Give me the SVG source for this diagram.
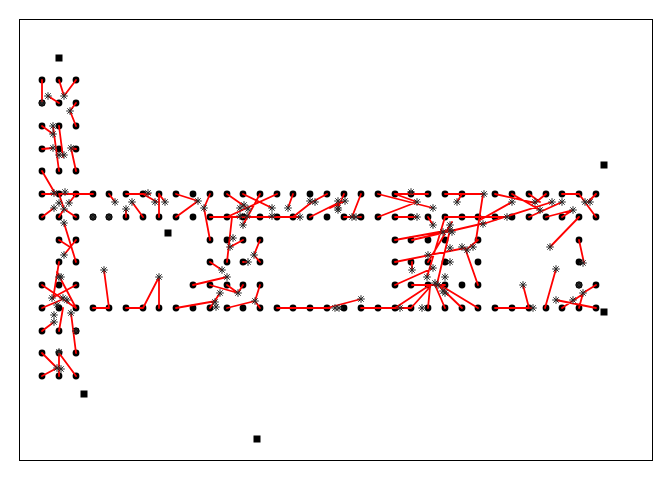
<svg xmlns="http://www.w3.org/2000/svg" xmlns:xlink="http://www.w3.org/1999/xlink" width="672" height="480" viewBox="0 0 672 480">
<style>
.frame{fill:#fff;stroke:#000;stroke-width:1}
.ln{fill:none;stroke:#f00;stroke-width:1.8;stroke-linecap:round;stroke-linejoin:round}
.st{fill:none;stroke:#2a2a2a;stroke-width:1}
.dt{fill:#000}
.sq{fill:#000}
</style>
<defs>
<circle id="d" r="3.4" class="dt"/>
<path id="s" class="st" d="M-3.8 0H3.8M0-3.8V3.8M-2.7-2.7L2.7 2.7M-2.7 2.7L2.7-2.7"/>
<rect id="q" x="-3.5" y="-3.5" width="7" height="7" class="sq"/>
</defs>
<rect class="frame" x="19.5" y="19.5" width="633" height="441"/>
<g id="dots">
<use href="#d" x="42" y="80"/><use href="#d" x="59" y="80"/><use href="#d" x="76" y="80"/>
<use href="#d" x="42" y="103"/><use href="#d" x="59" y="103"/><use href="#d" x="76" y="103"/>
<use href="#d" x="42" y="126"/><use href="#d" x="59" y="126"/><use href="#d" x="76" y="126"/>
<use href="#d" x="42" y="149"/><use href="#d" x="59" y="149"/><use href="#d" x="76" y="149"/>
<use href="#d" x="42" y="171"/><use href="#d" x="59" y="171"/><use href="#d" x="76" y="171"/>
<g id="row194">
<use href="#d" x="42" y="194"/><use href="#d" x="59" y="194"/><use href="#d" x="76" y="194"/><use href="#d" x="93" y="194"/><use href="#d" x="109" y="194"/><use href="#d" x="126" y="194"/><use href="#d" x="143" y="194"/><use href="#d" x="159" y="194"/><use href="#d" x="176" y="194"/><use href="#d" x="193" y="194"/><use href="#d" x="210" y="194"/><use href="#d" x="227" y="194"/><use href="#d" x="243" y="194"/><use href="#d" x="260" y="194"/><use href="#d" x="277" y="194"/><use href="#d" x="293" y="194"/><use href="#d" x="310" y="194"/><use href="#d" x="327" y="194"/><use href="#d" x="344" y="194"/><use href="#d" x="361" y="194"/><use href="#d" x="378" y="194"/><use href="#d" x="395" y="194"/><use href="#d" x="411" y="194"/><use href="#d" x="428" y="194"/><use href="#d" x="445" y="194"/><use href="#d" x="462" y="194"/><use href="#d" x="495" y="194"/><use href="#d" x="512" y="194"/><use href="#d" x="529" y="194"/><use href="#d" x="546" y="194"/><use href="#d" x="562" y="194"/><use href="#d" x="579" y="194"/><use href="#d" x="596" y="194"/>
</g>
<g id="row217">
<use href="#d" x="42" y="217"/><use href="#d" x="59" y="217"/><use href="#d" x="76" y="217"/><use href="#d" x="93" y="217"/><use href="#d" x="109" y="217"/><use href="#d" x="126" y="217"/><use href="#d" x="143" y="217"/><use href="#d" x="159" y="217"/><use href="#d" x="176" y="217"/><use href="#d" x="193" y="217"/><use href="#d" x="210" y="217"/><use href="#d" x="227" y="217"/><use href="#d" x="243" y="217"/><use href="#d" x="260" y="217"/><use href="#d" x="277" y="217"/><use href="#d" x="293" y="217"/><use href="#d" x="310" y="217"/><use href="#d" x="327" y="217"/><use href="#d" x="344" y="217"/><use href="#d" x="361" y="217"/><use href="#d" x="378" y="217"/><use href="#d" x="395" y="217"/><use href="#d" x="411" y="217"/><use href="#d" x="428" y="217"/><use href="#d" x="445" y="217"/><use href="#d" x="462" y="217"/><use href="#d" x="478" y="217"/><use href="#d" x="495" y="217"/><use href="#d" x="512" y="217"/><use href="#d" x="529" y="217"/><use href="#d" x="546" y="217"/><use href="#d" x="562" y="217"/><use href="#d" x="579" y="217"/><use href="#d" x="596" y="217"/>
</g>
<g id="row240">
<use href="#d" x="59" y="240"/><use href="#d" x="76" y="240"/><use href="#d" x="210" y="240"/><use href="#d" x="227" y="240"/><use href="#d" x="243" y="240"/><use href="#d" x="260" y="240"/><use href="#d" x="395" y="240"/><use href="#d" x="411" y="240"/><use href="#d" x="428" y="240"/><use href="#d" x="445" y="240"/><use href="#d" x="478" y="240"/><use href="#d" x="579" y="240"/>
</g>
<g id="row262">
<use href="#d" x="59" y="262"/><use href="#d" x="76" y="262"/><use href="#d" x="210" y="262"/><use href="#d" x="227" y="262"/><use href="#d" x="243" y="262"/><use href="#d" x="260" y="262"/><use href="#d" x="395" y="262"/><use href="#d" x="411" y="262"/><use href="#d" x="428" y="262"/><use href="#d" x="445" y="262"/><use href="#d" x="478" y="262"/><use href="#d" x="579" y="262"/>
</g>
<g id="row285">
<use href="#d" x="42" y="285"/><use href="#d" x="59" y="285"/><use href="#d" x="76" y="285"/><use href="#d" x="193" y="285"/><use href="#d" x="210" y="285"/><use href="#d" x="227" y="285"/><use href="#d" x="243" y="285"/><use href="#d" x="260" y="285"/><use href="#d" x="395" y="285"/><use href="#d" x="411" y="285"/><use href="#d" x="428" y="285"/><use href="#d" x="445" y="285"/><use href="#d" x="462" y="285"/><use href="#d" x="478" y="285"/><use href="#d" x="579" y="285"/><use href="#d" x="596" y="285"/>
</g>
<g id="row308">
<use href="#d" x="42" y="308"/><use href="#d" x="59" y="308"/><use href="#d" x="76" y="308"/><use href="#d" x="93" y="308"/><use href="#d" x="109" y="308"/><use href="#d" x="126" y="308"/><use href="#d" x="143" y="308"/><use href="#d" x="159" y="308"/><use href="#d" x="176" y="308"/><use href="#d" x="193" y="308"/><use href="#d" x="210" y="308"/><use href="#d" x="227" y="308"/><use href="#d" x="243" y="308"/><use href="#d" x="260" y="308"/><use href="#d" x="277" y="308"/><use href="#d" x="293" y="308"/><use href="#d" x="310" y="308"/><use href="#d" x="327" y="308"/><use href="#d" x="344" y="308"/><use href="#d" x="361" y="308"/><use href="#d" x="378" y="308"/><use href="#d" x="395" y="308"/><use href="#d" x="411" y="308"/><use href="#d" x="428" y="308"/><use href="#d" x="445" y="308"/><use href="#d" x="462" y="308"/><use href="#d" x="478" y="308"/><use href="#d" x="495" y="308"/><use href="#d" x="512" y="308"/><use href="#d" x="529" y="308"/><use href="#d" x="546" y="308"/><use href="#d" x="562" y="308"/><use href="#d" x="579" y="308"/><use href="#d" x="596" y="308"/>
</g>
<use href="#d" x="42" y="331"/><use href="#d" x="59" y="331"/><use href="#d" x="76" y="331"/>
<use href="#d" x="42" y="353"/><use href="#d" x="59" y="353"/><use href="#d" x="76" y="353"/>
<use href="#d" x="42" y="376"/><use href="#d" x="59" y="376"/><use href="#d" x="76" y="376"/>
</g>
<g id="connectors" class="ln">
<path d="M42 80L42 103M48 96L59 103M59 80L64 96M76 80L64 96M76 103L70 111L76 126M42 126L53 134M53 126L59 171M59 126L63 157M42 149L53 148M76 149L71 148L76 171"/>
<path d="M42 171L56 195M42 194L54 194M59 194L93 194M59 194L64 209M76 194L69 203M42 217L54 208M59 217L64 209M76 217L64 209M64 223L76 262M76 240L64 255M59 240L70 247M59 262L53 299"/>
<path d="M42 285L76 308M76 285L52 298M42 308L61 300M59 331L63 308M42 331L54 322M71 313L76 353M57 272L76 308M42 353L57 368M42 376L57 368M59 353L59 376M59 353L76 376"/>
<path d="M109 194L115 202M126 194L150 194M126 217L126 209M132 202L143 217M143 194L157 202M159 194L165 202M159 194L159 217M176 194L198 201M176 217L198 201"/>
<path d="M210 194L204 208L210 240M227 194L247 208M243 194L272 208M260 194L243 225M277 194L227 217M293 194L288 208M327 194L312 202M293 217L312 202M310 217L340 202M210 217L300 217"/>
<path d="M232 217L227 262M243 240L230 247M260 240L254 255L260 262M243 262L248 262M210 262L222 270M193 285L227 277M210 285L238 293M227 285L238 293M243 285L238 293M176 308L216 301M210 308L220 293M227 308L255 301M260 285L255 301M260 308L255 301M277 308L330 308"/>
<path d="M93 308L109 308M109 308L104 270M126 308L143 308M143 308L159 277M159 308L159 277"/>
<path d="M327 308L361 299M361 308L411 308M395 308L430 285M411 308L430 287"/>
<path d="M344 194L338 208M330 208L345 201M361 194L352 217M344 217L361 217M378 194L433 208M395 194L428 194M395 194L417 202M378 217L417 202M395 217L417 217M428 217L433 225M445 194L484 194M462 194L457 202M483 194L476 240M445 217L478 217"/>
<path d="M395 240L450 230M412 240L485 223M452 222L428 262M395 262L465 248M412 262L412 270M465 248L478 285M395 285L433 268M412 285L445 285M430 287L428 308M435 285L445 308M437 284L462 308M440 285L478 308M445 217L427 277M450 230L437 284M478 240L466 250"/>
<path d="M495 194L535 203M512 194L540 210M529 194L540 202M546 194L535 203M483 224L552 202M480 220L512 202M478 217L507 217M529 217L562 202M546 217L573 210M562 217L573 210M562 194L579 194M579 194L596 217M579 217L550 247M596 194L588 202M579 240L584 263M556 269L545 308M495 308L533 308M529 308L523 285M596 285L583 293M562 308L583 294M556 300L596 308M579 308L583 293"/>
</g>
<g id="stars">
<use href="#s" x="42" y="103"/><use href="#s" x="48" y="96"/><use href="#s" x="64" y="96"/><use href="#s" x="70" y="111"/><use href="#s" x="53" y="126"/><use href="#s" x="53" y="134"/><use href="#s" x="53" y="148"/><use href="#s" x="59" y="155"/><use href="#s" x="64" y="155"/><use href="#s" x="71" y="148"/>
<use href="#s" x="54" y="193"/><use href="#s" x="65" y="192"/><use href="#s" x="59" y="203"/><use href="#s" x="69" y="203"/><use href="#s" x="54" y="208"/><use href="#s" x="64" y="209"/><use href="#s" x="64" y="223"/><use href="#s" x="64" y="255"/><use href="#s" x="59" y="277"/>
<use href="#s" x="61" y="277"/><use href="#s" x="52" y="298"/><use href="#s" x="63" y="298"/><use href="#s" x="67" y="300"/><use href="#s" x="57" y="305"/><use href="#s" x="54" y="315"/><use href="#s" x="54" y="322"/><use href="#s" x="71" y="313"/><use href="#s" x="76" y="331"/><use href="#s" x="57" y="368"/><use href="#s" x="61" y="369"/><use href="#s" x="59" y="352"/>
<use href="#s" x="115" y="202"/><use href="#s" x="126" y="209"/><use href="#s" x="132" y="202"/><use href="#s" x="148" y="193"/><use href="#s" x="155" y="202"/><use href="#s" x="165" y="202"/><use href="#s" x="198" y="201"/><use href="#s" x="93" y="217"/><use href="#s" x="109" y="217"/>
<use href="#s" x="204" y="208"/><use href="#s" x="240" y="208"/><use href="#s" x="244" y="205"/><use href="#s" x="248" y="209"/><use href="#s" x="272" y="208"/><use href="#s" x="243" y="225"/><use href="#s" x="288" y="208"/><use href="#s" x="310" y="201"/><use href="#s" x="315" y="202"/><use href="#s" x="338" y="201"/><use href="#s" x="338" y="210"/><use href="#s" x="240" y="216"/><use href="#s" x="247" y="216"/><use href="#s" x="272" y="216"/><use href="#s" x="300" y="217"/>
<use href="#s" x="233" y="238"/><use href="#s" x="230" y="247"/><use href="#s" x="254" y="255"/><use href="#s" x="248" y="262"/><use href="#s" x="222" y="270"/><use href="#s" x="227" y="277"/><use href="#s" x="238" y="293"/><use href="#s" x="220" y="293"/><use href="#s" x="216" y="307"/><use href="#s" x="215" y="302"/><use href="#s" x="255" y="301"/>
<use href="#s" x="104" y="270"/><use href="#s" x="159" y="277"/>
<use href="#s" x="335" y="308"/><use href="#s" x="339" y="308"/><use href="#s" x="361" y="299"/><use href="#s" x="400" y="308"/><use href="#s" x="422" y="308"/>
<use href="#s" x="345" y="201"/><use href="#s" x="338" y="208"/><use href="#s" x="352" y="217"/><use href="#s" x="356" y="217"/><use href="#s" x="433" y="208"/><use href="#s" x="411" y="192"/><use href="#s" x="417" y="202"/><use href="#s" x="417" y="217"/><use href="#s" x="433" y="225"/><use href="#s" x="457" y="202"/><use href="#s" x="484" y="194"/><use href="#s" x="483" y="224"/><use href="#s" x="450" y="225"/><use href="#s" x="452" y="232"/>
<use href="#s" x="450" y="230"/><use href="#s" x="443" y="232"/><use href="#s" x="450" y="248"/><use href="#s" x="462" y="247"/><use href="#s" x="467" y="250"/><use href="#s" x="473" y="247"/><use href="#s" x="412" y="270"/><use href="#s" x="428" y="255"/><use href="#s" x="450" y="262"/><use href="#s" x="427" y="277"/><use href="#s" x="433" y="268"/><use href="#s" x="445" y="277"/><use href="#s" x="435" y="283"/><use href="#s" x="438" y="285"/><use href="#s" x="443" y="291"/><use href="#s" x="445" y="293"/>
<use href="#s" x="535" y="202"/><use href="#s" x="540" y="210"/><use href="#s" x="552" y="202"/><use href="#s" x="512" y="202"/><use href="#s" x="507" y="217"/><use href="#s" x="562" y="202"/><use href="#s" x="573" y="210"/><use href="#s" x="550" y="247"/><use href="#s" x="585" y="202"/><use href="#s" x="590" y="202"/><use href="#s" x="583" y="263"/><use href="#s" x="556" y="269"/><use href="#s" x="533" y="308"/><use href="#s" x="523" y="285"/><use href="#s" x="579" y="285"/><use href="#s" x="583" y="293"/><use href="#s" x="556" y="300"/><use href="#s" x="573" y="300"/>
</g>
<g id="squares">
<use href="#q" x="59" y="58"/><use href="#q" x="168" y="233"/><use href="#q" x="604" y="165"/><use href="#q" x="604" y="312"/><use href="#q" x="84" y="394"/><use href="#q" x="257" y="439"/>
</g>
</svg>
